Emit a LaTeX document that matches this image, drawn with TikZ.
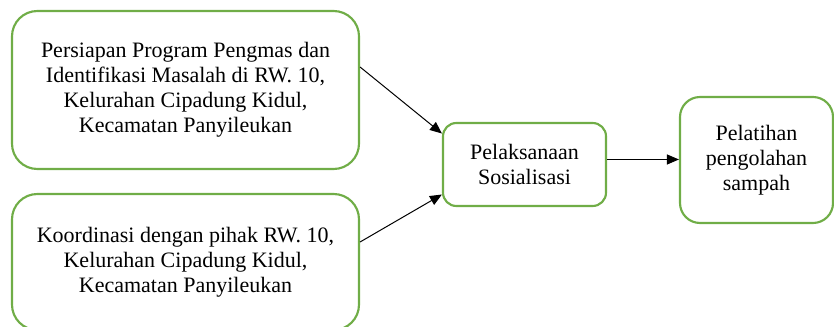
\documentclass[tikz,border=0pt]{standalone}
\usepackage{fontspec}
\setmainfont{Liberation Serif}
\usetikzlibrary{arrows.meta,calc}
\definecolor{boxgreen}{RGB}{112,173,71}
\begin{document}
\begin{tikzpicture}[x=0.75pt,y=-0.75pt,
  box/.style={draw=boxgreen, line width=1.6pt, align=center, inner sep=0pt,
    font=\fontsize{16.5}{18.7}\selectfont},
  arr/.style={-{Triangle[length=9pt,width=7.5pt]}, line width=0.75pt, draw=black}]
\useasboundingbox (0,0) rectangle (834,327);
\node[box, rounded corners=19pt, minimum width=347*0.75pt, minimum height=158*0.75pt] (A) at (185.5,90)
  {Persiapan Program Pengmas dan\\Identifikasi Masalah di RW. 10,\\Kelurahan Cipadung Kidul,\\Kecamatan Panyileukan};
\node[box, rounded corners=19pt, minimum width=347*0.75pt, minimum height=136*0.75pt] (B) at (185.5,262)
  {Koordinasi dengan pihak RW. 10,\\Kelurahan Cipadung Kidul,\\Kecamatan Panyileukan};
\node[box, rounded corners=10pt, minimum width=163*0.75pt, minimum height=83*0.75pt] (C) at (524.5,164.5)
  {Pelaksanaan\\Sosialisasi};
\node[box, rounded corners=15pt, minimum width=153*0.75pt, minimum height=126*0.75pt] (D) at (756.5,160)
  {Pelatihan\\pengolahan\\sampah};
\draw[arr] ($(A.east)+(0,-23)$) -- ($(C.west)+(0,-31)$);
\draw[arr] ($(B.east)+(0,-20)$) -- ($(C.west)+(0,30)$);
\coordinate (cd) at ($(C.east)+(0,-5)$);
\draw[arr] (cd) -- (cd -| D.west);
\end{tikzpicture}
\end{document}
